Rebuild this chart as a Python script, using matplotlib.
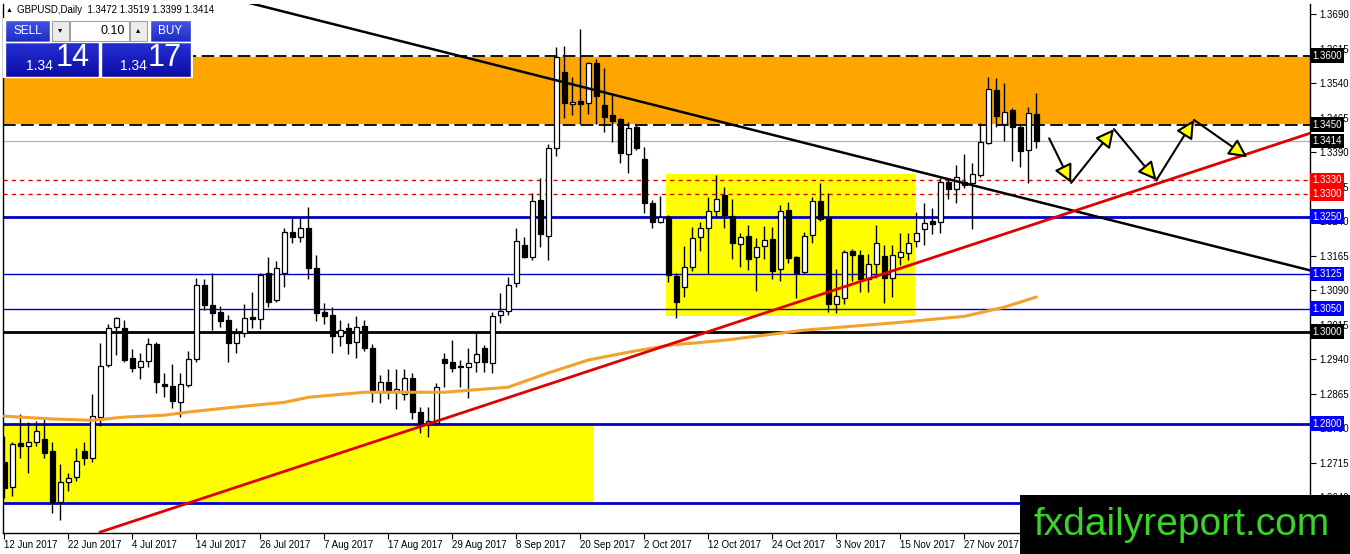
import numpy as np
import matplotlib
matplotlib.use('Agg')
import matplotlib.pyplot as plt
from matplotlib.patches import Rectangle
from matplotlib.colors import LinearSegmentedColormap
import matplotlib.transforms as mtrans

plt.rcParams['font.family'] = ['Liberation Sans', 'DejaVu Sans']

# GBPUSD daily candles, 12 Jun 2017 .. 8 Dec 2017 (one bar per weekday)
opens = [
    1.2716, 1.2662, 1.2757, 1.2751, 1.2760, 1.2766, 1.2740, 1.2629, 1.2673, 1.2683,
    1.2740, 1.2725, 1.2814, 1.2927, 1.3010, 1.3007, 1.2942, 1.2923, 1.2936, 1.2973,
    1.2886, 1.2881, 1.2846, 1.2883, 1.2940, 1.3101, 1.3057, 1.3042, 1.3025, 1.2975,
    1.2996, 1.3031, 1.3027, 1.3127, 1.3068, 1.3127, 1.3216, 1.3205, 1.3225, 1.3138,
    1.3042, 1.3036, 1.2990, 1.3007, 1.2977, 1.3012, 1.2964, 1.2868, 1.2890, 1.2868,
    1.2864, 1.2899, 1.2825, 1.2801, 1.2801, 1.2940, 1.2933, 1.2925, 1.2923, 1.2933,
    1.2964, 1.2931, 1.3036, 1.3044, 1.3105, 1.3188, 1.3162, 1.3286, 1.3207, 1.3399,
    1.3564, 1.3494, 1.3501, 1.3496, 1.3583, 1.3492, 1.3470, 1.3462, 1.3386, 1.3444,
    1.3375, 1.3279, 1.3238, 1.3249, 1.3120, 1.3096, 1.3140, 1.3205, 1.3225, 1.3262,
    1.3296, 1.3251, 1.3190, 1.3207, 1.3162, 1.3186, 1.3201, 1.3136, 1.3264, 1.3162,
    1.3129, 1.3210, 1.3283, 1.3246, 1.3060, 1.3073, 1.3175, 1.3166, 1.3114, 1.3147,
    1.3164, 1.3116, 1.3162, 1.3170, 1.3197, 1.3223, 1.3240, 1.3238, 1.3325, 1.3310,
    1.3325, 1.3323, 1.3340, 1.3410, 1.3525, 1.3451, 1.3481, 1.3444, 1.3394, 1.3472,
]
highs = [
    1.2773, 1.2760, 1.2820, 1.2803, 1.2805, 1.2810, 1.2760, 1.2712, 1.2692, 1.2746,
    1.2760, 1.2864, 1.2975, 1.3016, 1.3031, 1.3025, 1.2962, 1.2953, 1.2986, 1.2977,
    1.2910, 1.2929, 1.2910, 1.2957, 1.3116, 1.3114, 1.3127, 1.3055, 1.3036, 1.3007,
    1.3060, 1.3086, 1.3127, 1.3162, 1.3153, 1.3225, 1.3246, 1.3249, 1.3270, 1.3166,
    1.3062, 1.3053, 1.3025, 1.3018, 1.3033, 1.3025, 1.2973, 1.2905, 1.2918, 1.2918,
    1.2918, 1.2910, 1.2836, 1.2836, 1.2888, 1.2953, 1.2981, 1.2938, 1.2964, 1.2999,
    1.2970, 1.3042, 1.3083, 1.3118, 1.3225, 1.3205, 1.3301, 1.3333, 1.3407, 1.3618,
    1.3620, 1.3553, 1.3657, 1.3586, 1.3592, 1.3573, 1.3514, 1.3464, 1.3455, 1.3448,
    1.3401, 1.3286, 1.3294, 1.3253, 1.3127, 1.3186, 1.3227, 1.3238, 1.3292, 1.3340,
    1.3314, 1.3288, 1.3214, 1.3231, 1.3203, 1.3229, 1.3227, 1.3275, 1.3281, 1.3164,
    1.3216, 1.3292, 1.3323, 1.3301, 1.3136, 1.3177, 1.3179, 1.3177, 1.3168, 1.3231,
    1.3188, 1.3188, 1.3214, 1.3214, 1.3260, 1.3279, 1.3268, 1.3333, 1.3333, 1.3362,
    1.3386, 1.3366, 1.3453, 1.3553, 1.3551, 1.3540, 1.3486, 1.3448, 1.3488, 1.3519,
]
lows = [
    1.2638, 1.2642, 1.2725, 1.2692, 1.2751, 1.2725, 1.2605, 1.2590, 1.2653, 1.2675,
    1.2710, 1.2716, 1.2794, 1.2923, 1.2949, 1.2933, 1.2912, 1.2896, 1.2923, 1.2866,
    1.2857, 1.2833, 1.2814, 1.2879, 1.2933, 1.3047, 1.3003, 1.3010, 1.2933, 1.2953,
    1.2988, 1.3007, 1.3005, 1.3053, 1.3064, 1.3096, 1.3192, 1.3194, 1.3114, 1.3023,
    1.3016, 1.2953, 1.2968, 1.2951, 1.2942, 1.2957, 1.2846, 1.2844, 1.2853, 1.2831,
    1.2851, 1.2810, 1.2779, 1.2770, 1.2796, 1.2879, 1.2912, 1.2879, 1.2855, 1.2912,
    1.2912, 1.2910, 1.3018, 1.3036, 1.3096, 1.3160, 1.3155, 1.3183, 1.3155, 1.3381,
    1.3464, 1.3470, 1.3451, 1.3473, 1.3451, 1.3433, 1.3412, 1.3366, 1.3344, 1.3394,
    1.3257, 1.3225, 1.3236, 1.3107, 1.3029, 1.3075, 1.3131, 1.3175, 1.3125, 1.3249,
    1.3225, 1.3157, 1.3140, 1.3133, 1.3088, 1.3157, 1.3114, 1.3110, 1.3149, 1.3073,
    1.3125, 1.3192, 1.3240, 1.3042, 1.3040, 1.3060, 1.3110, 1.3086, 1.3086, 1.3116,
    1.3062, 1.3075, 1.3144, 1.3155, 1.3183, 1.3188, 1.3212, 1.3214, 1.3288, 1.3279,
    1.3312, 1.3223, 1.3336, 1.3407, 1.3444, 1.3414, 1.3370, 1.3357, 1.3323, 1.3399,
]
closes = [
    1.2660, 1.2755, 1.2751, 1.2760, 1.2783, 1.2736, 1.2629, 1.2673, 1.2681, 1.2718,
    1.2725, 1.2816, 1.2925, 1.3007, 1.3029, 1.2938, 1.2920, 1.2936, 1.2973, 1.2890,
    1.2881, 1.2849, 1.2886, 1.2940, 1.3101, 1.3057, 1.3040, 1.3023, 1.2975, 1.2996,
    1.3029, 1.3027, 1.3123, 1.3064, 1.3138, 1.3216, 1.3205, 1.3225, 1.3138, 1.3040,
    1.3033, 1.2990, 1.3003, 1.2975, 1.3010, 1.2964, 1.2868, 1.2890, 1.2868, 1.2875,
    1.2899, 1.2825, 1.2801, 1.2805, 1.2879, 1.2931, 1.2920, 1.2923, 1.2931, 1.2951,
    1.2933, 1.3033, 1.3044, 1.3101, 1.3197, 1.3162, 1.3283, 1.3212, 1.3399, 1.3596,
    1.3496, 1.3499, 1.3494, 1.3583, 1.3512, 1.3466, 1.3457, 1.3388, 1.3442, 1.3399,
    1.3279, 1.3238, 1.3249, 1.3123, 1.3064, 1.3140, 1.3203, 1.3225, 1.3262, 1.3288,
    1.3253, 1.3192, 1.3205, 1.3157, 1.3183, 1.3199, 1.3131, 1.3262, 1.3160, 1.3127,
    1.3207, 1.3283, 1.3244, 1.3060, 1.3077, 1.3173, 1.3166, 1.3114, 1.3147, 1.3192,
    1.3116, 1.3166, 1.3173, 1.3192, 1.3214, 1.3236, 1.3233, 1.3325, 1.3310, 1.3336,
    1.3318, 1.3342, 1.3412, 1.3527, 1.3468, 1.3477, 1.3444, 1.3392, 1.3475, 1.3414,
]

# moving average read at some bars
ma_idx = [0, 6, 11, 15, 20, 23, 29, 35, 38, 45, 55, 63, 68, 73, 78, 83, 90, 100, 112, 120, 125, 129]
ma_val = [1.2816, 1.2810, 1.2807, 1.2814, 1.2818, 1.2825, 1.2836, 1.2846, 1.2857, 1.2868, 1.2868,
          1.2879, 1.2910, 1.2938, 1.2955, 1.2970, 1.2981, 1.3003, 1.3020, 1.3033, 1.3053, 1.3075]

date_labels = ['12 Jun 2017', '22 Jun 2017', '4 Jul 2017', '14 Jul 2017', '26 Jul 2017',
               '7 Aug 2017', '17 Aug 2017', '29 Aug 2017', '8 Sep 2017', '20 Sep 2017',
               '2 Oct 2017', '12 Oct 2017', '24 Oct 2017', '3 Nov 2017', '15 Nov 2017',
               '27 Nov 2017']
date_bars = [0, 8, 16, 24, 32, 40, 48, 56, 64, 72, 80, 88, 96, 104, 112, 120]

price_ticks = [1.3690, 1.3615, 1.3540, 1.3465, 1.3390, 1.3315, 1.3240, 1.3165,
               1.3090, 1.3015, 1.2940, 1.2865, 1.2790, 1.2715, 1.2640]

# horizontal levels
level_vals = [1.3600, 1.3450, 1.3414, 1.3330, 1.3300, 1.3250, 1.3125, 1.3050, 1.3000, 1.2800, 1.2627]
level_cols = ['black', 'black', '#b4b4b4', '#e00000', '#e00000', '#0000c8', '#0000c8',
              '#0000c8', 'black', '#0000c8', '#0000c8']
level_lw = [1.3, 1.3, 0.9, 1.0, 1.0, 2.0, 1.0, 1.0, 2.0, 2.0, 2.0]
level_ls = ['dash', 'dash', '-', 'dot', 'dot', '-', '-', '-', '-', '-', '-']
label_bg = ['black', 'black', 'black', '#ff0000', '#ff0000', '#0000ff', '#0000ff',
            '#0000ff', 'black', '#0000ff', None]

# zones
orange_zone = [1.3450, 1.3600]
box1_bars = [-5, 73.7]
box1_prices = [1.2630, 1.2800]
box2_bars = [82.7, 113.85]
box2_prices = [1.3033, 1.3342]

# trendlines (bar, price) anchors
black_tl_bars = [30.7, 163.2]
black_tl_prices = [1.3714, 1.3133]
red_tl_bars = [12.0, 163.2]
red_tl_prices = [1.2564, 1.3431]

# projected zig-zag path
path_bars = [130.6, 133.35, 138.7, 144.0, 148.7, 155.35]
path_prices = [1.3420, 1.3323, 1.3440, 1.3329, 1.3460, 1.3379]

W, H = 1350, 554
fig = plt.figure(figsize=(W / 100, H / 100), dpi=100)
fig.patch.set_facecolor('white')
ax = fig.add_axes([3 / W, 1 - 533 / H, (1310 - 3) / W, (533 - 4) / H])

o = np.array(opens)
c = np.array(closes)
hi = np.array(highs)
lo = np.array(lows)
x = np.arange(len(o))

ax.set_xlim(-0.15, 163.2)
ax.set_ylim(1.2562, 1.3712)

# zones
ax.axhspan(orange_zone[0], orange_zone[1], color='#ffa500', zorder=0, lw=0)
ax.add_patch(Rectangle((box1_bars[0], box1_prices[0]), box1_bars[1] - box1_bars[0],
                       box1_prices[1] - box1_prices[0], color='#ffff00', lw=0, zorder=0))
ax.add_patch(Rectangle((box2_bars[0], box2_prices[0]), box2_bars[1] - box2_bars[0],
                       box2_prices[1] - box2_prices[0], color='#ffff00', lw=0, zorder=0))

# levels
for v, col, lw, ls in zip(level_vals, level_cols, level_lw, level_ls):
    if ls == 'dash':
        ax.axhline(v, color='white', lw=lw, zorder=1)
        ax.axhline(v, color=col, lw=lw, ls=(0, (7, 3)), zorder=1)
    elif ls == 'dot':
        ax.axhline(v, color=col, lw=lw, ls=(0, (3, 3)), zorder=1)
    else:
        ax.axhline(v, color=col, lw=lw, zorder=1)

# candles
up = c >= o
body_lo = np.minimum(o, c)
body_h = np.maximum(np.abs(c - o), 0.00012)
ax.vlines(x, lo, hi, color='black', lw=1, zorder=3)
ax.bar(x[up], body_h[up], bottom=body_lo[up], width=0.62, color='white',
       edgecolor='black', lw=0.9, zorder=4)
ax.bar(x[~up], body_h[~up], bottom=body_lo[~up], width=0.62, color='black',
       edgecolor='black', lw=0.9, zorder=4)

# moving average + trendlines
ax.plot(ma_idx, ma_val, color='#f2a22a', lw=2.2, zorder=5, solid_capstyle='round')
ax.plot(black_tl_bars, black_tl_prices, color='black', lw=1.8, zorder=5)
ax.plot(red_tl_bars, red_tl_prices, color='#e00000', lw=2.0, zorder=5)

# zig-zag arrows
for i in range(len(path_bars) - 1):
    ax.annotate('', xy=(path_bars[i + 1], path_prices[i + 1]),
                xytext=(path_bars[i], path_prices[i]),
                arrowprops=dict(arrowstyle='-|>,head_length=0.55,head_width=0.28',
                                mutation_scale=20, fc='#ffff00', ec='black', lw=1.5,
                                shrinkA=0, shrinkB=0),
                zorder=6)

# axes styling
for s in ax.spines.values():
    s.set_color('black')
    s.set_linewidth(1)
ax.spines['top'].set_visible(False)
ax.yaxis.tick_right()
ax.set_yticks(price_ticks)
ax.set_yticklabels(['%.4f' % t for t in price_ticks])
ax.set_xticks(date_bars)
ax.set_xticklabels(date_labels)
for lab in ax.get_xticklabels():
    lab.set_ha('left')
ax.tick_params(axis='y', length=4, width=0.8, labelsize=7, pad=3)
ax.tick_params(axis='x', length=4, width=0.8, labelsize=7, pad=1)

# right-hand level labels
trans = mtrans.blended_transform_factory(ax.transAxes, ax.transData)
for v, bg in zip(level_vals, label_bg):
    if bg is None:
        continue
    ax.text(1.0015, v, '%.4f' % v, transform=trans, fontsize=7, color='white',
            va='center', ha='left', clip_on=False, zorder=10,
            bbox=dict(boxstyle='square,pad=0.22', fc=bg, ec='none'))

# overlay in pixel space: header, trade panel, watermark
ov = fig.add_axes([0, 0, 1, 1], zorder=20)
ov.patch.set_alpha(0)
ov.axis('off')


def grad_rect(x0, y0, x1, y1, ctop, cbot):
    cm = LinearSegmentedColormap.from_list('g', [ctop, cbot])
    ov.imshow(np.linspace(0, 1, 40).reshape(-1, 1), cmap=cm, aspect='auto',
              extent=(x0, x1, y1, y0), origin='upper', zorder=1)
    ov.add_patch(Rectangle((x0, y0), x1 - x0, y1 - y0, fc='none', ec='white', lw=1, zorder=2))


ov.text(6, 10, '▲', fontsize=5, va='center', ha='left', color='black')
ov.text(17, 10, 'GBPUSD,Daily  1.3472 1.3519 1.3399 1.3414', fontsize=7, va='center',
        ha='left', color='black')

ov.add_patch(Rectangle((3, 18), 190, 60, fc='white', ec='none', zorder=0))
grad_rect(5, 20, 50, 42, '#4656e6', '#1c2cc4')
grad_rect(150, 20, 191, 42, '#4656e6', '#1c2cc4')
grad_rect(5, 42, 99, 77, '#2630d6', '#0c0ca4')
grad_rect(101, 42, 191, 77, '#2630d6', '#0c0ca4')
ov.add_patch(Rectangle((52, 21), 17, 20, fc='#ececec', ec='#a0a0a0', lw=0.8, zorder=2))
ov.add_patch(Rectangle((70, 21), 59, 20, fc='white', ec='#a0a0a0', lw=0.8, zorder=2))
ov.add_patch(Rectangle((130, 21), 17, 20, fc='#ececec', ec='#a0a0a0', lw=0.8, zorder=2))
ov.text(60.5, 31, '▾', fontsize=6, ha='center', va='center', zorder=3)
ov.text(138.5, 31, '▴', fontsize=6, ha='center', va='center', zorder=3)
ov.text(125, 31, '0.10', fontsize=9, ha='right', va='center', zorder=3)
ov.text(27.5, 31, 'SELL', fontsize=8.5, ha='center', va='center', color='white', zorder=3)
ov.text(170.5, 31, 'BUY', fontsize=8.5, ha='center', va='center', color='white', zorder=3)
ov.text(26, 66, '1.34', fontsize=10, ha='left', va='center', color='white', zorder=3)
ov.text(56, 58, '14', fontsize=22, ha='left', va='center', color='white', zorder=3)
ov.text(120, 66, '1.34', fontsize=10, ha='left', va='center', color='white', zorder=3)
ov.text(148, 58, '17', fontsize=22, ha='left', va='center', color='white', zorder=3)

ov.add_patch(Rectangle((1020, 495), 330, 60, fc='black', ec='none', zorder=4))
ov.text(1034, 535, 'fxdailyreport.com', fontsize=28, color='#3bd22b', ha='left',
        va='baseline', zorder=5)

ov.set_xlim(0, W)
ov.set_ylim(H, 0)

fig.savefig('out.png', dpi=100)
